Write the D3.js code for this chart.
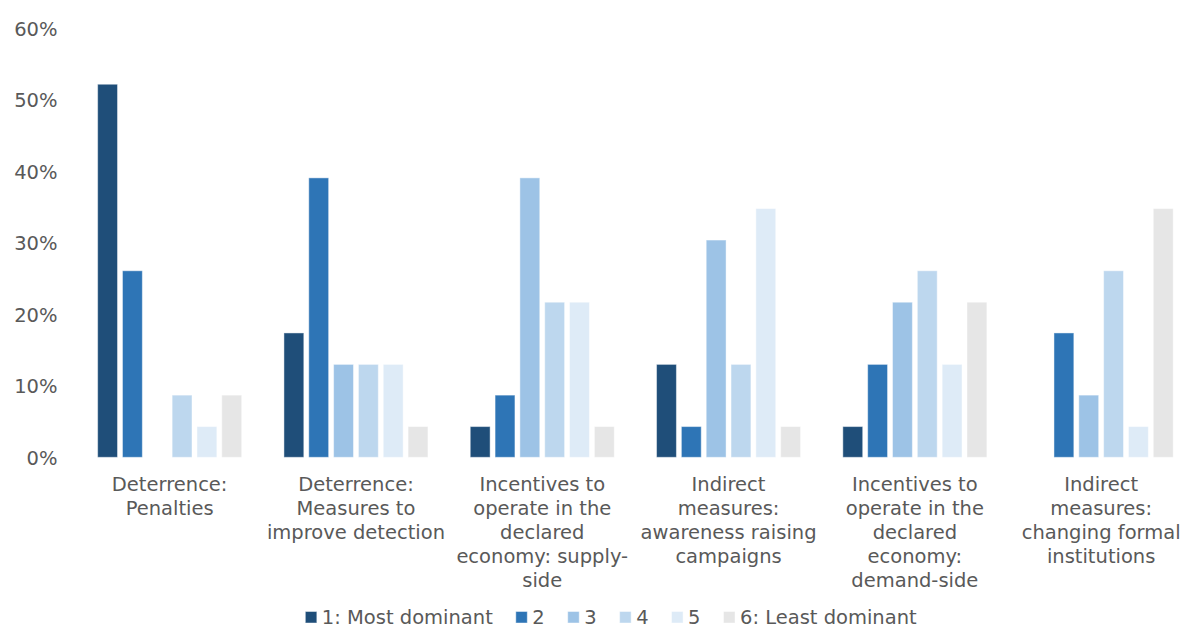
<!DOCTYPE html>
<html>
<head>
<meta charset="utf-8">
<script src="https://cdn.jsdelivr.net/npm/d3@7"></script>
<style>
  html, body { margin: 0; padding: 0; background: #ffffff; }
  svg { display: block; }
  text { font-family: "DejaVu Sans", Verdana, sans-serif; fill: #595959; }
</style>
</head>
<body>
<svg id="chart" width="1184" height="630"></svg>
<script>
// Policy measures, each label split into its wrapped lines
const categories = [
  "Deterrence:\nPenalties",
  "Deterrence:\nMeasures to\nimprove detection",
  "Incentives to\noperate in the\ndeclared\neconomy: supply-\nside",
  "Indirect\nmeasures:\nawareness raising\ncampaigns",
  "Incentives to\noperate in the\ndeclared\neconomy:\ndemand-side",
  "Indirect\nmeasures:\nchanging formal\ninstitutions"
];

// Ranking levels (legend entries)
const seriesNames = ["1: Most dominant", "2", "3", "4", "5", "6: Least dominant"];

// Share of responses (%) per ranking level, one value per category
const rank1 = [52.2, 17.4, 4.3, 13.0, 4.3, 0];
const rank2 = [26.1, 39.1, 8.7, 4.3, 13.0, 17.4];
const rank3 = [0, 13.0, 39.1, 30.4, 21.7, 8.7];
const rank4 = [8.7, 13.0, 21.7, 13.0, 26.1, 26.1];
const rank5 = [4.3, 13.0, 21.7, 34.8, 13.0, 4.3];
const rank6 = [8.7, 4.3, 4.3, 4.3, 21.7, 34.8];

const yTicks = [0, 10, 20, 30, 40, 50, 60];

const colors = ["#1F4E79", "#2E75B6", "#9DC3E6", "#BDD7EE", "#DEEBF7", "#E6E6E6"];

const seriesValues = [rank1, rank2, rank3, rank4, rank5, rank6];

const svg = d3.select("#chart");
const fontSize = 19.5;

const x0 = d3.scaleBand()
  .domain(d3.range(categories.length))
  .range([76.5, 1194.3])
  .paddingInner(0.227)
  .paddingOuter(0.1135);

const x1 = d3.scaleBand()
  .domain(d3.range(seriesNames.length))
  .range([0, x0.bandwidth()])
  .paddingInner(0.2)
  .paddingOuter(0);

const y = d3.scaleLinear().domain([0, 60]).range([457.3, 28.5]);

// Y axis: labels only, no line or ticks
const yAxis = svg.append("g")
  .attr("transform", "translate(57.5,0)")
  .call(d3.axisLeft(y).tickValues(yTicks).tickFormat(d => d + "%").tickSize(0).tickPadding(0));
yAxis.select(".domain").remove();
yAxis.selectAll("text")
  .attr("font-family", "DejaVu Sans, Verdana, sans-serif")
  .attr("font-size", fontSize)
  .attr("fill", "#595959")
  .attr("dy", "0.36em");

// Bars
const groups = svg.append("g").selectAll("g")
  .data(categories.map((c, i) => i))
  .join("g")
  .attr("transform", i => `translate(${x0(i)},0)`);

groups.selectAll("rect")
  .data(i => seriesValues.map((vals, s) => ({ s, v: vals[i] })))
  .join("rect")
  .filter(d => d.v > 0)
  .attr("x", d => x1(d.s))
  .attr("width", x1.bandwidth())
  .attr("y", d => y(d.v))
  .attr("height", d => y(0) - y(d.v))
  .attr("fill", d => colors[d.s])
  .attr("stroke", "#ffffff")
  .attr("stroke-opacity", 0.45)
  .attr("stroke-width", 1);

// Category labels, multi-line and centred under each group
const catLabels = svg.append("g").selectAll("text")
  .data(categories)
  .join("text")
  .attr("text-anchor", "middle")
  .attr("font-size", fontSize)
  .attr("x", (d, i) => x0(i) + x0.bandwidth() / 2)
  .attr("y", 490.7);
catLabels.each(function (d, i) {
  const t = d3.select(this);
  d.split("\n").forEach((line, k) => {
    t.append("tspan")
      .attr("x", x0(i) + x0.bandwidth() / 2)
      .attr("y", 490.7 + k * 24)
      .text(line);
  });
});

// Legend
const legend = svg.append("g");
const sw = 11.5, gapText = 5, gapItem = 23;
let cursor = 0;
seriesNames.forEach((name, s) => {
  const g = legend.append("g");
  g.append("rect")
    .attr("x", 0).attr("y", -12.5)
    .attr("width", sw).attr("height", sw)
    .attr("fill", colors[s])
    .attr("stroke", "#ffffff").attr("stroke-opacity", 0.45);
  const t = g.append("text")
    .attr("x", sw + gapText).attr("y", 0)
    .attr("font-size", fontSize)
    .text(name);
  const w = sw + gapText + t.node().getComputedTextLength();
  g.attr("transform", `translate(${cursor},0)`);
  cursor += w + gapItem;
});
const totalW = cursor - gapItem;
legend.attr("transform", `translate(${611 - totalW / 2},624)`);
</script>
</body>
</html>
